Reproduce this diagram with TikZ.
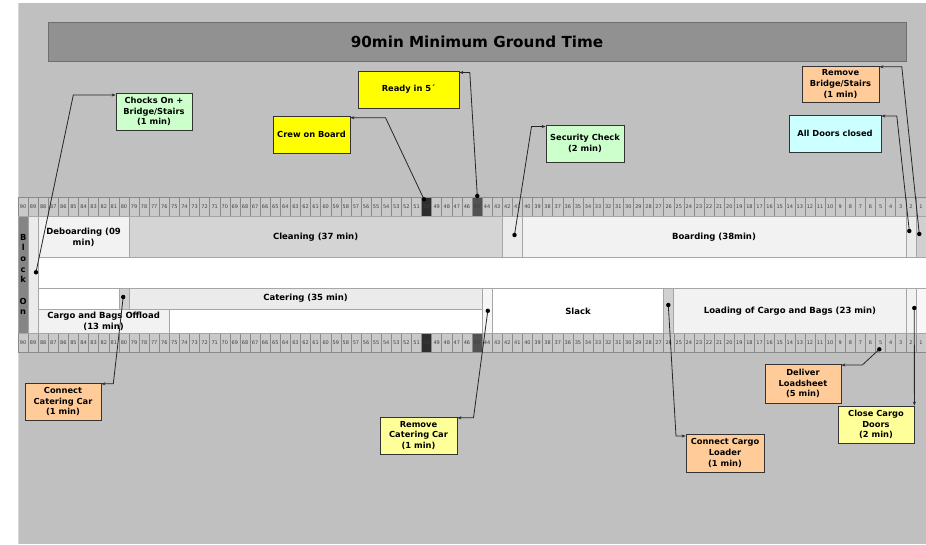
\documentclass[tikz,border=0pt]{standalone}
\usepackage{fontspec}
\setmainfont{DejaVu Sans}
\usetikzlibrary{arrows.meta}
\definecolor{panel}{HTML}{C0C0C0}
\definecolor{titlebar}{HTML}{919191}
\definecolor{titleedge}{HTML}{6E6E6E}
\definecolor{rulefill}{HTML}{C9C9C9}
\definecolor{ruleedge}{HTML}{8A8A8A}
\definecolor{segedge}{HTML}{A6A6A6}
\definecolor{pale}{HTML}{F2F2F2}
\definecolor{midgrey}{HTML}{D4D4D4}
\definecolor{lightgrey}{HTML}{EBEBEB}
\definecolor{cellgrey}{HTML}{D0D0D0}
\definecolor{blockon}{HTML}{858585}
\definecolor{boxgreen}{HTML}{CCFFCC}
\definecolor{boxyellow}{HTML}{FFFF00}
\definecolor{boxpaleyellow}{HTML}{FFFF99}
\definecolor{boxorange}{HTML}{FFCC99}
\definecolor{boxcyan}{HTML}{CCFFFF}
\tikzset{
  rulecell/.style={fill=rulefill,draw=ruleedge,line width=0.5pt},
  rulenum/.style={inner sep=0pt,font=\fontsize{5}{5.5}\selectfont,text=black!75},
  seg/.style={draw=segedge,line width=0.6pt},
  seglabel/.style={inner sep=0pt,align=center,font=\bfseries\fontsize{8.5}{10.7}\selectfont},
  callout/.style={draw=black!80,line width=0.8pt,inner sep=1pt,align=center,
    font=\bfseries\fontsize{8.3}{10.7}\selectfont},
  conn/.style={draw=black!85,line width=0.8pt,-{Stealth[length=4pt,width=3pt]}},
  dotmark/.style={fill=black},
}
\begin{document}
\begin{tikzpicture}[x=1pt,y=-1pt,declare function={cx(\k)=18+(90-\k)*10.0889;}]
\useasboundingbox (0,0) rectangle (926,544);
\fill[white] (0,0) rectangle (926,544);
\fill[panel] (18,3) rectangle (926,544);
\draw[white!85!black,line width=0.5pt] (18.3,3) -- (18.3,544);
% title
\node[draw=titleedge,fill=titlebar,line width=0.8pt,minimum width=858pt,minimum height=39pt,
  font=\bfseries\fontsize{15.2}{18}\selectfont] (title) at (477,41.5) {90min Minimum Ground Time};
% rulers
\foreach \k in {1,...,90}{
  \pgfmathsetmacro\xa{18+(90-\k)*10.0889}
  \path[rulecell] (\xa,197) rectangle ++(10.0889,19.5);
  \path[rulecell] (\xa,333) rectangle ++(10.0889,19.5);
}
\foreach \k/\c in {50/black!82,45/black!68}{
  \pgfmathsetmacro\xa{18+(90-\k)*10.0889}
  \path[rulecell,fill=\c] (\xa,197) rectangle ++(10.0889,19.5);
  \path[rulecell,fill=\c] (\xa,333) rectangle ++(10.0889,19.5);
}
\foreach \k in {1,...,90}{
  \pgfmathsetmacro\xm{18+(90-\k)*10.0889+5.044}
  \node[rulenum] (t\k) at (\xm,206.8) {\k};
  \node[rulenum] (b\k) at (\xm,342.8) {\k};
}
% segments
\path[seg,fill=blockon] ({cx(90)},216.5) rectangle ({cx(89)},333);
\path[seg,fill=lightgrey] ({cx(89)},216.5) rectangle ({cx(88)},333);
\path[seg,fill=white] ({cx(88)},257) rectangle (926,288);
\path[seg,fill=pale] ({cx(88)},216.5) rectangle ({cx(79)},257);
\path[seg,fill=midgrey] ({cx(79)},216.5) rectangle ({cx(42)},257);
\path[seg,fill=lightgrey] ({cx(42)},216.5) rectangle ({cx(40)},257);
\path[seg,fill=pale] ({cx(40)},216.5) rectangle ({cx(2)},257);
\path[seg,fill=lightgrey] ({cx(2)},216.5) rectangle ({cx(1)},257);
\path[seg,fill=cellgrey] ({cx(1)},216.5) rectangle (926,257);
\path[seg,fill=white] ({cx(88)},288) rectangle ({cx(80)},309);
\path[seg,fill=cellgrey] ({cx(80)},288) rectangle ({cx(79)},309);
\path[seg,fill=lightgrey] ({cx(79)},288) rectangle ({cx(44)},309);
\path[seg,fill=pale] ({cx(88)},309) rectangle ({cx(75)},333);
\path[seg,fill=white] ({cx(75)},309) rectangle ({cx(44)},333);
\path[seg,fill=pale!70!white] ({cx(44)},288) rectangle ({cx(43)},333);
\path[seg,fill=white] ({cx(43)},288) rectangle ({cx(26)},333);
\path[seg,fill=cellgrey] ({cx(26)},288) rectangle ({cx(25)},333);
\path[seg,fill=pale] ({cx(25)},288) rectangle ({cx(2)},333);
\path[seg,fill=pale] ({cx(2)},288) rectangle ({cx(1)},333);
\path[seg,fill=white!97!black] ({cx(1)},288) rectangle (926,333);
% segment labels
\node[seglabel,font=\bfseries\fontsize{8.3}{10.7}\selectfont] (blk) at (23.2,274.5) {B\\l\\o\\c\\k\\[10.7pt]O\\n};
\node[seglabel] (deb) at (83.6,237.5) {Deboarding (09\\min)};
\node[seglabel] (clean) at (315.6,237) {Cleaning (37 min)};
\node[seglabel] (board) at (714,237) {Boarding (38min)};
\node[seglabel] (cater) at (305.6,298.5) {Catering (35 min)};
\node[seglabel] (offload) at (103.6,321.3) {Cargo and Bags Offload\\(13 min)};
\node[seglabel] (slack) at (578,311) {Slack};
\node[seglabel] (loading) at (790,311) {Loading of Cargo and Bags (23 min)};
% callout boxes
\node[callout,fill=boxgreen,minimum width=76pt,minimum height=37pt] (chocks) at (154,111.5) {Chocks On +\\Bridge/Stairs\\(1 min)};
\node[callout,fill=boxyellow,minimum width=101pt,minimum height=37pt] (ready) at (408.5,89.5) {Ready in 5´};
\node[callout,fill=boxyellow,minimum width=77pt,minimum height=37pt] (crew) at (311.5,134.5) {Crew on Board};
\node[callout,fill=boxgreen,minimum width=78pt,minimum height=37pt] (security) at (585,143.5) {Security Check\\(2 min)};
\node[callout,fill=boxorange,minimum width=77pt,minimum height=36pt] (rembridge) at (840.5,84) {Remove\\Bridge/Stairs\\(1 min)};
\node[callout,fill=boxcyan,minimum width=92pt,minimum height=37pt] (doors) at (835,133.5) {All Doors closed};
\node[callout,fill=boxorange,minimum width=76pt,minimum height=37pt] (concat) at (63,401.5) {Connect\\Catering Car\\(1 min)};
\node[callout,fill=boxpaleyellow,minimum width=77pt,minimum height=37pt] (remcat) at (418.5,435.5) {Remove\\Catering Car\\(1 min)};
\node[callout,fill=boxorange,minimum width=78pt,minimum height=38pt] (concargo) at (725,453) {Connect Cargo\\Loader\\(1 min)};
\node[callout,fill=boxorange,minimum width=76pt,minimum height=39pt] (deliver) at (803,383.5) {Deliver\\Loadsheet\\(5 min)};
\node[callout,fill=boxpaleyellow,minimum width=76pt,minimum height=37pt] (closecargo) at (876,424.5) {Close Cargo\\Doors\\(2 min)};
% connector points
\coordinate (d1) at (36,272.3);   \coordinate (k1) at (73.3,95);
\coordinate (d2) at (477.3,196);  \coordinate (k2) at (469.8,72.5);
\coordinate (d3) at (424,199.3);  \coordinate (k3) at (385.5,117.7);
\coordinate (d4) at (514.5,235);  \coordinate (k4) at (531.5,126.5);
\coordinate (d5) at (919.3,234);  \coordinate (k5) at (901.8,66.8);
\coordinate (d6) at (909.3,231);  \coordinate (k6) at (896.8,116);
\coordinate (d7) at (123.2,297);  \coordinate (k7) at (113.3,383.8);
\coordinate (d8) at (487.8,310.8);\coordinate (k8) at (473.5,417.8);
\coordinate (d9) at (668.3,305);  \coordinate (k9) at (676,436);
\coordinate (d10) at (879.3,349.3);\coordinate (k10) at (862.3,365);
\coordinate (d11) at (914.3,308);
% connectors
\draw[conn] (d1) -- (k1) -- (k1 -| chocks.west);
\draw[conn] (d2) -- (k2) -- (k2 -| ready.east);
\draw[conn] (d3) -- (k3) -- (k3 -| crew.east);
\draw[conn] (d4) -- (k4) -- (k4 -| security.west);
\draw[conn] (d5) -- (k5) -- (k5 -| rembridge.east);
\draw[conn] (d6) -- (k6) -- (k6 -| doors.east);
\draw[conn] (d7) -- (k7) -- (k7 -| concat.east);
\draw[conn] (d8) -- (k8) -- (k8 -| remcat.east);
\draw[conn] (d9) -- (k9) -- (k9 -| concargo.west);
\draw[conn] (d10) -- (k10) -- (k10 -| deliver.east);
\draw[conn] (d11) -- (closecargo.north east);
\foreach \d in {d1,d2,d3,d4,d5,d6,d7,d8,d9,d10,d11}{
  \fill[dotmark] (\d) circle[radius=2.2pt];
}
\end{tikzpicture}
\end{document}
